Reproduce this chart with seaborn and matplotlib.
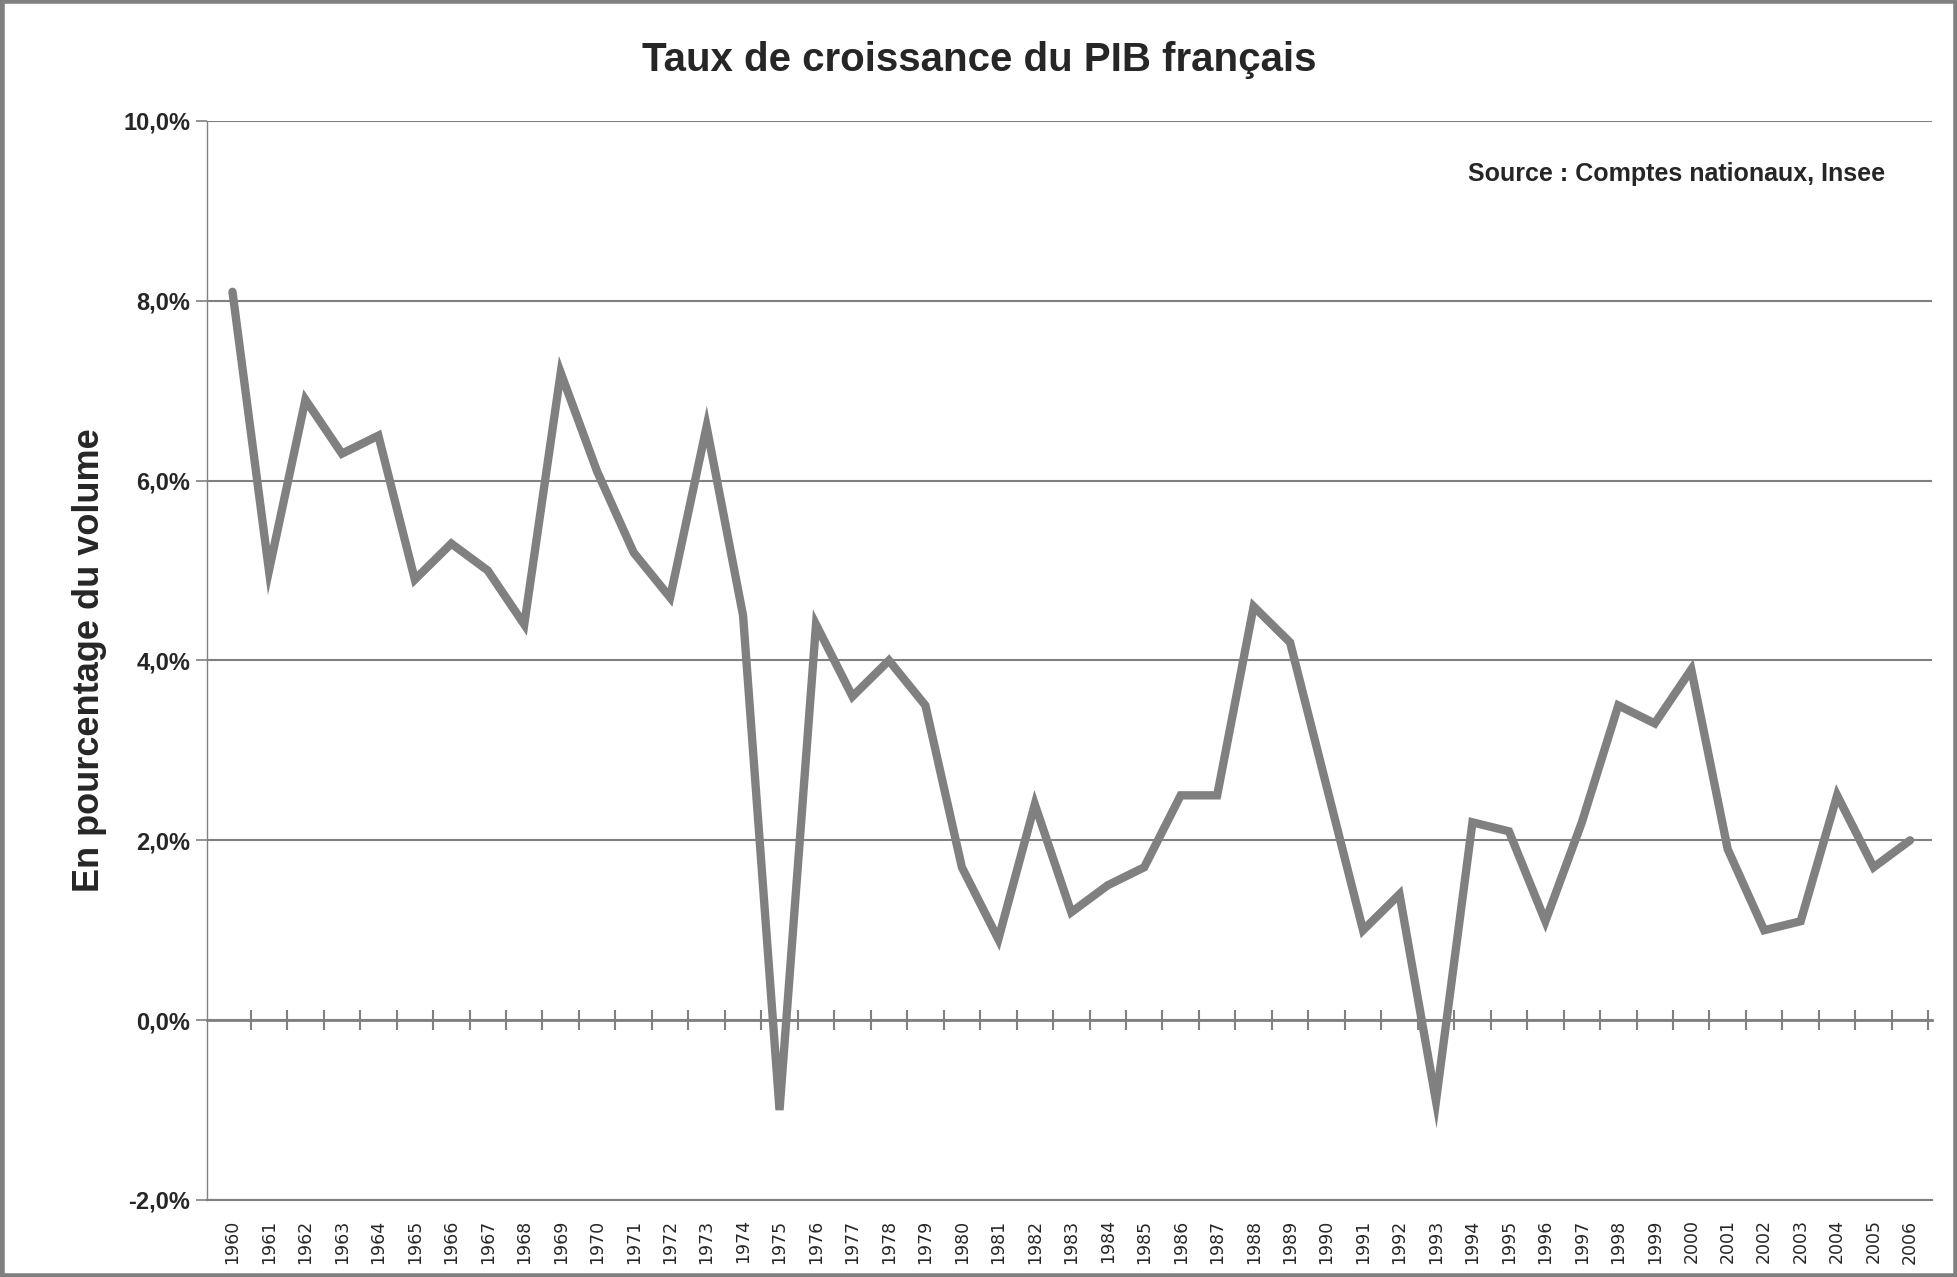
import numpy as np
import pandas as pd
import matplotlib
matplotlib.use('Agg')
import matplotlib.pyplot as plt
from matplotlib.patches import Rectangle
import seaborn as sns

# Taux de croissance du PIB (volume, %)
years = list(range(1960, 2007))
growth = [8.1, 5.0, 6.9, 6.3, 6.5, 4.9, 5.3, 5.0, 4.4, 7.2,
          6.1, 5.2, 4.7, 6.6, 4.5, -1.0, 4.4, 3.6, 4.0, 3.5,
          1.7, 0.9, 2.4, 1.2, 1.5, 1.7, 2.5, 2.5, 4.6, 4.2,
          2.6, 1.0, 1.4, -0.9, 2.2, 2.1, 1.1, 2.2, 3.5, 3.3,
          3.9, 1.9, 1.0, 1.1, 2.5, 1.7, 2.0]
y_ticks = [-2, 0, 2, 4, 6, 8, 10]

df = pd.DataFrame({'annee': years, 'pib': growth})

sns.set_theme(style='white')
narrow = ['Liberation Sans', 'DejaVu Sans']
grey = '#808080'

fig = plt.figure(figsize=(19.58, 12.77), dpi=100)
ax = fig.add_axes([0.1057, 0.0603, 0.881, 0.845])

sns.lineplot(data=df, x='annee', y='pib', ax=ax, color=grey, linewidth=6,
             solid_joinstyle='miter')

ax.set_xlim(years[0] - 0.7, years[-1] + 0.6)
ax.set_ylim(-2, 10)
ax.set_yticks(y_ticks)
ax.set_yticklabels([f'{v:.1f}%'.replace('.', ',') for v in y_ticks],
                   fontfamily=narrow, fontweight='bold', fontsize=17)
ax.yaxis.grid(True, color=grey, linewidth=1.5)
ax.xaxis.grid(False)
ax.tick_params(axis='y', length=8, width=1.2, color=grey, direction='out', left=True, pad=4)

ax.set_xticks(years)
ax.set_xticklabels([str(y) for y in years], rotation=90, fontsize=12.5, fontfamily='DejaVu Sans')
ax.tick_params(axis='x', length=0, pad=14)

for s in ['top', 'right']:
    ax.spines[s].set_visible(False)
ax.spines['left'].set_color(grey)
ax.spines['left'].set_linewidth(1)
ax.spines['bottom'].set_color(grey)
ax.spines['bottom'].set_linewidth(1.5)

# axe des categories qui croise en 0
sec = ax.secondary_xaxis(location=2 / 12)
sec.set_xticks([y + 0.5 for y in years])
sec.set_xticklabels([])
sec.tick_params(axis='x', length=14, width=1.5, color=grey, direction='inout')
sec.spines['bottom'].set_color(grey)
sec.spines['bottom'].set_linewidth(2)

ax.set_xlabel('')
ax.set_ylabel('En pourcentage du volume', fontfamily=narrow, fontweight='bold',
              fontsize=26, labelpad=12)

ax.text(0.973, 0.951, 'Source : Comptes nationaux, Insee', transform=ax.transAxes,
        ha='right', va='center', fontfamily=narrow, fontweight='bold', fontsize=18)

fig.suptitle('Taux de croissance du PIB français', y=0.968, fontfamily=narrow,
             fontweight='bold', fontsize=29)

fig.patches.append(Rectangle((0.001, 0.001), 0.998, 0.998, transform=fig.transFigure,
                             fill=False, edgecolor=grey, linewidth=4))

fig.savefig('out.png', dpi=100)
